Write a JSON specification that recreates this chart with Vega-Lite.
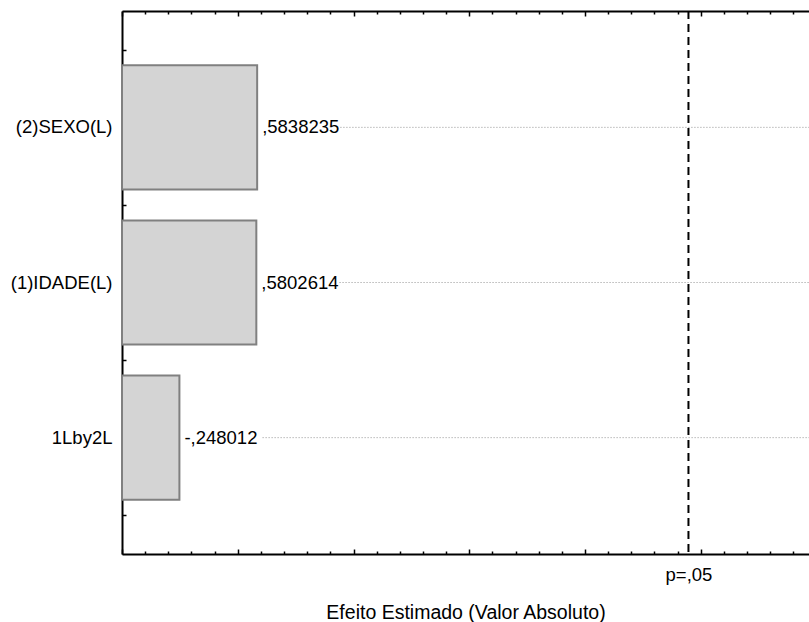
{
  "$schema": "https://vega.github.io/schema/vega-lite/v6.json",
  "width": 687,
  "height": 543,
  "autosize": {"type": "none"},
  "padding": {"left": 122, "top": 11, "right": 0, "bottom": 68},
  "background": "white",
  "config": {
    "view": {"stroke": null},
    "font": "Liberation Sans",
    "axis": {
      "labelFont": "Liberation Sans",
      "titleFont": "Liberation Sans",
      "labelColor": "black",
      "titleColor": "black",
      "domainColor": "black",
      "tickColor": "black",
      "domainWidth": 2,
      "tickWidth": 1.5,
      "grid": false,
      "zindex": 1
    }
  },
  "datasets": {
    "efeitos": [
      {"fator": "(2)SEXO(L)", "efeito": 0.5838235, "efeito_abs": 0.5838235, "rotulo": ",5838235"},
      {"fator": "(1)IDADE(L)", "efeito": 0.5802614, "efeito_abs": 0.5802614, "rotulo": ",5802614"},
      {"fator": "1Lby2L", "efeito": -0.248012, "efeito_abs": 0.248012, "rotulo": "-,248012"}
    ],
    "limite": [{"p": ",05", "t_critico": 2.446912}]
  },
  "layer": [
    {
      "data": {"name": "efeitos"},
      "encoding": {
        "y": {
          "field": "fator",
          "type": "nominal",
          "sort": null,
          "scale": {"paddingInner": 0.2, "paddingOuter": 0.35},
          "axis": {
            "orient": "left",
            "title": null,
            "labelFontSize": 18.5,
            "labelPadding": 14,
            "tickSize": -4,
            "domain": true
          }
        },
        "x": {
          "field": "efeito_abs",
          "type": "quantitative",
          "scale": {"domain": [0, 2.9676], "nice": false, "zero": true},
          "axis": {
            "orient": "bottom",
            "values": [0, 0.1, 0.2, 0.3, 0.4, 0.5, 0.6, 0.7, 0.8, 0.9, 1, 1.1, 1.2, 1.3, 1.4, 1.5, 1.6, 1.7, 1.8, 1.9, 2, 2.1, 2.2, 2.3, 2.4, 2.5, 2.6, 2.7, 2.8, 2.9, 2.446912],
            "labelExpr": "abs(datum.value - 2.446912) < 0.0001 ? 'p=,05' : ''",
            "labelOverlap": false,
            "labelFlush": false,
            "labelFontSize": 18.5,
            "labelPadding": 14,
            "labelBaseline": "top",
            "tickSize": {"condition": {"test": "abs(datum.value*2 - round(datum.value*2)) < 0.001", "value": -5}, "value": -3},
            "tickOpacity": {"condition": {"test": "abs(datum.value - 2.446912) < 0.0001", "value": 0}, "value": 1},
            "title": "Efeito Estimado (Valor Absoluto)",
            "titleFontSize": 19.5,
            "titleFontWeight": "normal",
            "titleBaseline": "alphabetic",
            "titleY": 64
          }
        }
      },
      "layer": [
        {
          "mark": {"type": "rule", "color": "#b8b8b8", "strokeDash": [1.5, 1.5], "strokeWidth": 1, "xOffset": 83},
          "encoding": {"x2": {"datum": 2.9676}}
        },
        {
          "mark": {"type": "bar", "fill": "#d4d4d4", "stroke": "#808080", "strokeWidth": 2}
        },
        {
          "mark": {"type": "text", "align": "left", "baseline": "middle", "dx": 5, "fontSize": 18.5, "color": "black"},
          "encoding": {"text": {"field": "rotulo"}}
        }
      ]
    },
    {
      "data": {"name": "limite"},
      "mark": {"type": "rule", "color": "black", "strokeWidth": 2, "strokeDash": [8, 5]},
      "encoding": {
        "x": {"field": "t_critico", "type": "quantitative", "scale": {"domain": [0, 2.9676], "nice": false, "zero": true}, "axis": null}
      }
    },
    {
      "data": {"name": "limite"},
      "mark": {"type": "point", "opacity": 0},
      "encoding": {
        "x": {
          "datum": 0,
          "type": "quantitative",
          "scale": {"domain": [0, 2.9676], "nice": false, "zero": true},
          "axis": {
            "orient": "top",
            "values": [0, 0.1, 0.2, 0.3, 0.4, 0.5, 0.6, 0.7, 0.8, 0.9, 1, 1.1, 1.2, 1.3, 1.4, 1.5, 1.6, 1.7, 1.8, 1.9, 2, 2.1, 2.2, 2.3, 2.4, 2.5, 2.6, 2.7, 2.8, 2.9],
            "labels": false,
            "title": null,
            "tickSize": {"condition": {"test": "abs(datum.value*2 - round(datum.value*2)) < 0.001", "value": -5}, "value": -3}
          }
        },
        "y": {
          "datum": 1,
          "type": "quantitative",
          "scale": {"domain": [0.25, 3.75], "nice": false, "zero": false},
          "axis": {
            "orient": "left",
            "values": [0.5, 0.75, 1, 1.25, 1.5, 1.75, 2, 2.25, 2.5, 2.75, 3, 3.25, 3.5],
            "labels": false,
            "domain": false,
            "title": null,
            "tickSize": -4
          }
        }
      }
    }
  ],
  "resolve": {
    "scale": {"y": "independent"},
    "axis": {"x": "independent", "y": "independent"}
  }
}
